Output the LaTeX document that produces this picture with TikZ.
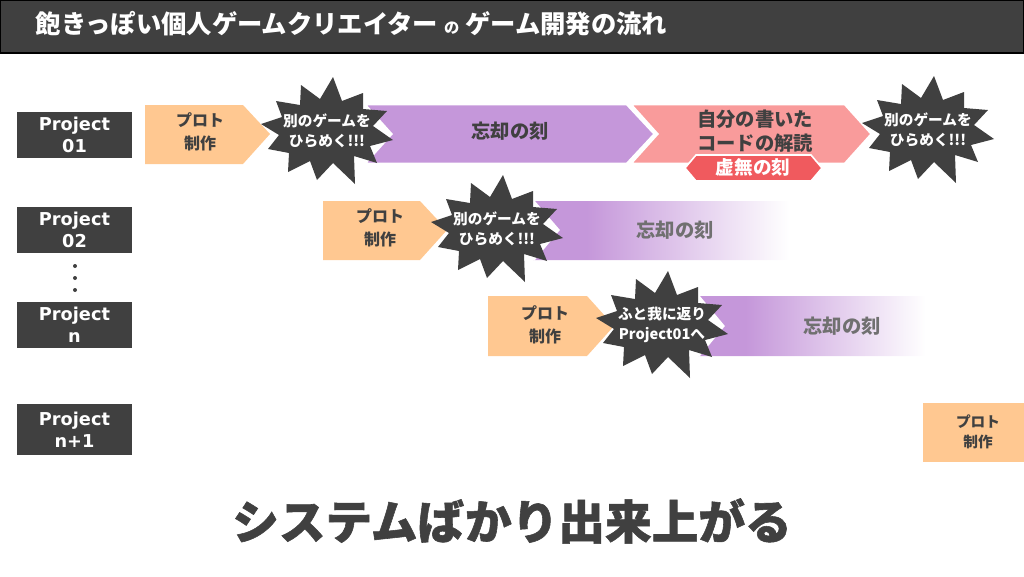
\documentclass[tikz,border=0pt]{standalone}
\usepackage{fontspec}
\setmainfont{DejaVu Sans}
\newfontfamily\jp{Noto Sans CJK JP}
\newfontfamily\jpheavy{Noto Sans CJK JP}[FakeBold=1.2]
\definecolor{darkc}{HTML}{404040}
\definecolor{orangec}{HTML}{FFC891}
\definecolor{purpc}{HTML}{C597DA}
\definecolor{pinkc}{HTML}{F99B9B}
\definecolor{redc}{HTML}{F05A5E}
\definecolor{fadetxt}{HTML}{707070}
\pgfdeclarehorizontalshading{fadeP}{100bp}{color(0bp)=(purpc); color(35bp)=(purpc); color(73bp)=(white); color(100bp)=(white)}
\tikzset{
  projbox/.style={fill=darkc},
  projtext/.style={text=white, align=center, font={\bfseries\fontsize{13.3}{16.5}\selectfont}},
  plottext/.style={text=darkc, align=center, font={\jp\bfseries\fontsize{12}{17}\selectfont}},
  bigtext/.style={text=darkc, align=center, font={\jp\bfseries\fontsize{14.5}{17.5}\selectfont}},
  bursttext/.style={text=white, align=center, font={\jp\bfseries\fontsize{11}{15}\selectfont}},
  burstfill/.style={fill=darkc},
  chevfill/.style={draw=white, line width=2.2pt, line join=miter},
}
\newcommand\burstat[3]{%
  \fill[burstfill, shift={#2}] (6,-54) -- (15,-30) -- (36,-38) -- (36,-22) -- (60,-20) -- (46,-5)
   -- (66,9) -- (43,15) -- (50,32) -- (27,25) -- (28,53) -- (6,32) -- (-10,49) -- (-17,30)
   -- (-39,41) -- (-38,22) -- (-59,18) -- (-48,4) -- (-66,-7) -- (-45,-14) -- (-51,-30)
   -- (-27,-26) -- (-26,-46) -- (-7,-32) -- cycle;
  \node[bursttext] (#1) at #2 {#3};
}
\begin{document}
\begin{tikzpicture}[x=0.75pt,y=-0.75pt]
\useasboundingbox (0,0) rectangle (1024,576);
% title bar
\fill[darkc] (0,0) rectangle (1024,53);
\draw[black, line width=0.8pt] (0.5,0.5) rectangle (1023.5,53);
\node[anchor=west, text=white, font={\jp\bfseries\fontsize{19}{21}\selectfont}] (title) at (31,24)
  {飽きっぽい個人ゲームクリエイター {\fontsize{11.5}{12}\selectfont の} ゲーム開発の流れ};

% project labels
\fill[projbox] (17,112) rectangle (132,158);
\node[projtext] (p1) at (74.5,135) {Project\\01};
\fill[projbox] (17,207) rectangle (132,253);
\node[projtext] (p2) at (74.5,230) {Project\\02};
\fill[darkc] (75,266) circle (2);
\fill[darkc] (75,278) circle (2);
\fill[darkc] (75,290) circle (2);
\fill[projbox] (17,302) rectangle (132,348);
\node[projtext] (pn) at (74.5,325) {Project\\n};
\fill[projbox] (17,404) rectangle (132,455);
\node[projtext] (pn1) at (74.5,430) {Project\\n+1};

% row 1
\fill[orangec] (145,105) -- (243,105) -- (270,134) -- (243,164) -- (145,164) -- cycle;
\node[plottext] (o1) at (200,132) {プロト\\制作};
\filldraw[pinkc, chevfill] (630,104) -- (845,104) -- (872,134) -- (845,164) -- (630,164) -- (657,134) -- cycle;
\node[bigtext] (code) at (755,131) {自分の書いた\\コードの解読};
\filldraw[purpc, chevfill] (364,104) -- (627,104) -- (655,134) -- (627,164) -- (364,164) -- (391,134) -- cycle;
\node[bigtext] (forget1) at (510,131) {忘却の刻};
\burstat{b1}{(327,131)}{別のゲームを\\ひらめく!!!}
\burstat{b2}{(928,130)}{別のゲームを\\ひらめく!!!}
\filldraw[fill=redc, draw=white, line width=1.2pt] (685,168) -- (696,155) -- (811,155) -- (822,168) -- (811,181) -- (696,181) -- cycle;
\node[text=white, font={\jp\bfseries\fontsize{14}{16}\selectfont}] (void) at (753,167.5) {虚無の刻};

% row 2
\fill[orangec] (323,201) -- (420,201) -- (447,230) -- (420,260) -- (323,260) -- cycle;
\node[plottext] (o2) at (380,228) {プロト\\制作};
\shade[shading=fadeP] (533,201) -- (800,201) -- (800,260) -- (533,260) -- (558,230) -- cycle;
\draw[white, line width=2.2pt] (533,201) -- (558,230) -- (533,260);
\node[bigtext, text=fadetxt] (forget2) at (675,230) {忘却の刻};
\burstat{b3}{(497,229)}{別のゲームを\\ひらめく!!!}

% row 3
\fill[orangec] (488,296) -- (587,296) -- (614,326) -- (587,356) -- (488,356) -- cycle;
\node[plottext] (o3) at (545,325) {プロト\\制作};
\shade[shading=fadeP] (698,296) -- (935,296) -- (935,356) -- (698,356) -- (723,326) -- cycle;
\draw[white, line width=2.2pt] (698,296) -- (723,326) -- (698,356);
\node[bigtext, text=fadetxt] (forget3) at (842,326) {忘却の刻};
\burstat{b4}{(662,325)}{ふと我に返り\\Project01へ}

% row 4
\fill[orangec] (923,403) rectangle (1024,462);
\node[plottext, font={\jp\bfseries\fontsize{11}{15}\selectfont}] (o4) at (978,432) {プロト\\制作};

% bottom text
\node[text=darkc, font={\jpheavy\bfseries\fontsize{35}{40}\selectfont}] (concl) at (512,521) {システムばかり出来上がる};
\end{tikzpicture}
\end{document}
